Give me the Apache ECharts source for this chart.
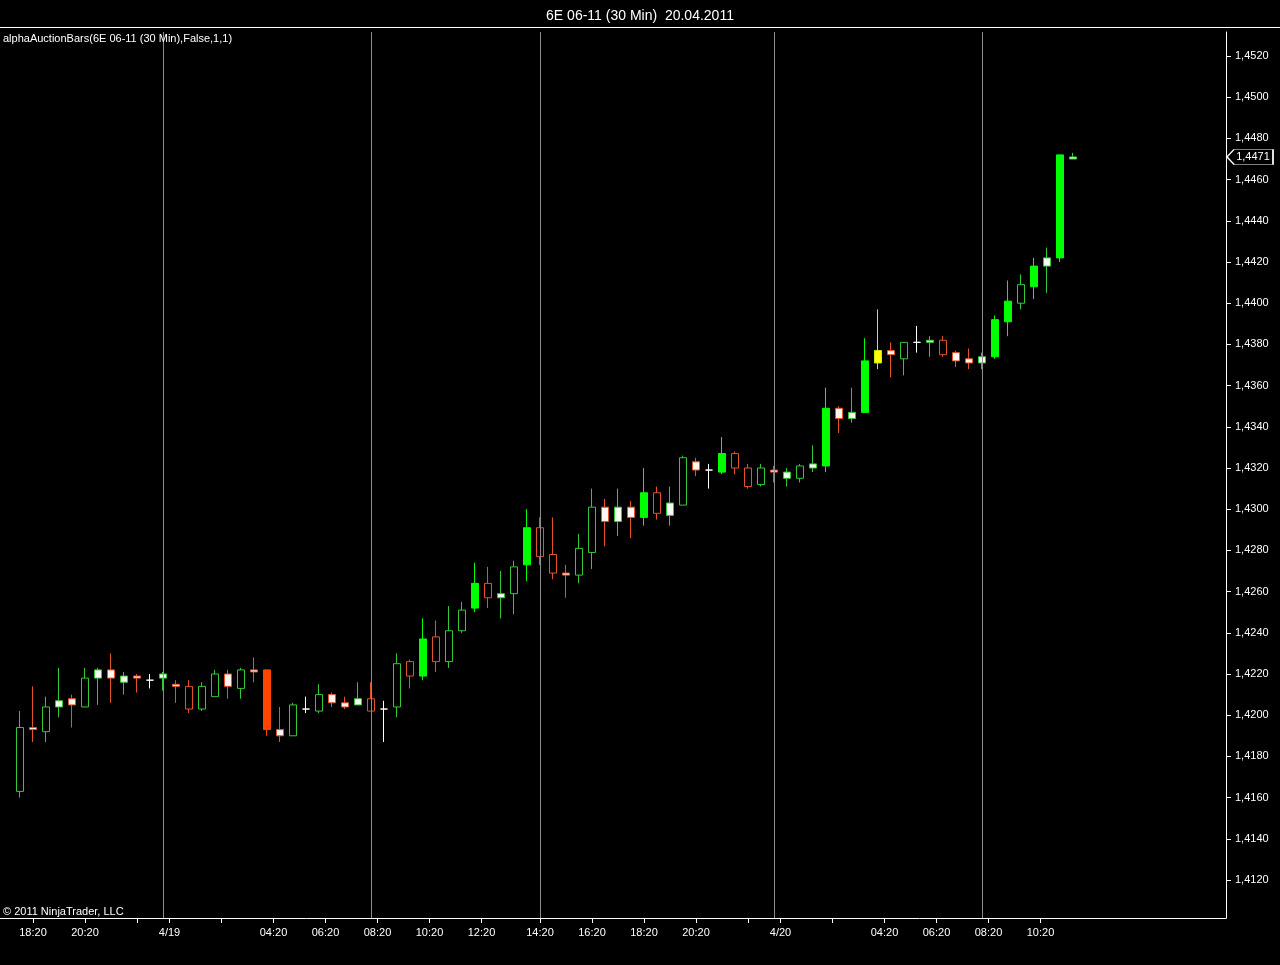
<!DOCTYPE html>
<html>
<head>
<meta charset="utf-8">
<script src="https://cdn.jsdelivr.net/npm/echarts@6/dist/echarts.min.js"></script>
<style>
html,body{margin:0;padding:0;background:#000;}
#chart{width:1280px;height:965px;}
</style>
</head>
<body>
<div id="chart"></div>
<script>
// 30-minute bars, 6E 06-11
const opens  = [1.4163,1.4194,1.4192,1.4204,1.4208,1.4204,1.4218,1.4222,1.4216,1.4219,1.4217,1.4218,1.4215,1.4214,1.4203,1.4209,1.4220,1.4213,1.4222,1.4222,1.4193,1.4190,1.4203,1.4202,1.4210,1.4206,1.4205,1.4208,1.4203,1.4204,1.4226,1.4219,1.4238,1.4226,1.4241,1.4252,1.4264,1.4257,1.4259,1.4273,1.4291,1.4278,1.4269,1.4268,1.4279,1.4301,1.4294,1.4301,1.4296,1.4308,1.4297,1.4302,1.4323,1.4319,1.4318,1.4327,1.4320,1.4312,1.4319,1.4315,1.4315,1.4320,1.4321,1.4349,1.4344,1.4347,1.4371,1.4377,1.4373,1.4381,1.4381,1.4382,1.4376,1.4373,1.4371,1.4374,1.4391,1.4400,1.4408,1.4418,1.4422,1.4470];
const closes = [1.4194,1.4193,1.4204,1.4207,1.4205,1.4218,1.4222,1.4218,1.4219,1.4218,1.4217,1.4220,1.4214,1.4203,1.4214,1.4220,1.4214,1.4222,1.4221,1.4193,1.4190,1.4205,1.4203,1.4210,1.4206,1.4204,1.4208,1.4202,1.4203,1.4225,1.4219,1.4237,1.4226,1.4241,1.4251,1.4264,1.4257,1.4259,1.4272,1.4291,1.4277,1.4269,1.4268,1.4281,1.4301,1.4294,1.4301,1.4296,1.4308,1.4298,1.4303,1.4325,1.4319,1.4319,1.4327,1.4320,1.4311,1.4320,1.4318,1.4318,1.4321,1.4322,1.4349,1.4344,1.4347,1.4372,1.4377,1.4375,1.4381,1.4381,1.4382,1.4375,1.4372,1.4371,1.4374,1.4392,1.4401,1.4409,1.4418,1.4422,1.4472,1.4471];
const lows   = [1.4160,1.4187,1.4187,1.4199,1.4194,1.4204,1.4205,1.4206,1.4210,1.4211,1.4213,1.4212,1.4206,1.4201,1.4202,1.4209,1.4208,1.4208,1.4216,1.4190,1.4187,1.4190,1.4201,1.4201,1.4204,1.4203,1.4205,1.4202,1.4187,1.4199,1.4213,1.4217,1.4221,1.4223,1.4240,1.4250,1.4252,1.4247,1.4249,1.4265,1.4273,1.4266,1.4257,1.4264,1.4271,1.4282,1.4287,1.4286,1.4292,1.4295,1.4292,1.4302,1.4316,1.4310,1.4317,1.4317,1.4310,1.4311,1.4313,1.4311,1.4313,1.4318,1.4318,1.4337,1.4342,1.4347,1.4368,1.4364,1.4365,1.4376,1.4374,1.4374,1.4369,1.4368,1.4368,1.4373,1.4384,1.4397,1.4402,1.4405,1.4420,1.4470];
const highs  = [1.4202,1.4214,1.4209,1.4223,1.4210,1.4223,1.4223,1.4230,1.4221,1.4220,1.4220,1.4221,1.4217,1.4217,1.4216,1.4222,1.4222,1.4223,1.4228,1.4222,1.4204,1.4206,1.4209,1.4215,1.4211,1.4209,1.4216,1.4216,1.4207,1.4230,1.4227,1.4247,1.4246,1.4253,1.4255,1.4274,1.4272,1.4270,1.4275,1.4300,1.4296,1.4296,1.4273,1.4288,1.4310,1.4305,1.4310,1.4304,1.4320,1.4311,1.4311,1.4326,1.4325,1.4322,1.4335,1.4328,1.4322,1.4322,1.4321,1.4320,1.4322,1.4331,1.4359,1.4350,1.4359,1.4383,1.4397,1.4381,1.4381,1.4389,1.4384,1.4384,1.4377,1.4378,1.4376,1.4394,1.4411,1.4414,1.4422,1.4427,1.4472,1.4473];
// auction bar type: g hollow up, G solid up, w white up, r hollow down, R solid down, v white down, x doji, Y yellow
const kinds = "gvgwvgwvwvxwvrggvgvRvgxgvvwrxgrGrggGrwgGrrvggvwvGrwgvxGrrgvwgwGvwGYvgxwrvvwGGgGwGw".split("");

const xTickIdx   = [1,5,9,11.5,15.5,19.5,23.5,27.5,31.5,35.5,40,44,48,52,56,58.5,62.5,66.5,70.5,74.5,78.5];
const xTickText  = ['18:20','20:20','','4/19','','04:20','06:20','08:20','10:20','12:20','14:20','16:20','18:20','20:20','','4/20','','04:20','06:20','08:20','10:20'];
const sessionBars = [11,27,40,58,74];
const yTicks = [1.412,1.414,1.416,1.418,1.420,1.422,1.424,1.426,1.428,1.430,1.432,1.434,1.436,1.438,1.440,1.442,1.444,1.446,1.448,1.450,1.452];
const lastPrice = 1.4471;

const GREEN = '#34c934', GREEN_SOLID = '#00ff00', RED = '#e2532c', RED_SOLID = '#ff4500';
const styleFor = {
  g: {fill:'#000000', border:GREEN},
  G: {fill:GREEN_SOLID, border:GREEN_SOLID},
  w: {fill:'#f2fff2', border:GREEN},
  r: {fill:'#000000', border:RED},
  R: {fill:RED_SOLID, border:RED_SOLID},
  v: {fill:'#fff6f2', border:RED},
  x: {fill:'#ffffff', border:'#ffffff'},
  Y: {fill:'#ffff00', border:'#c8f000'}
};

const candles = opens.map((o, i) => {
  const s = styleFor[kinds[i]];
  return {
    value: [i, o, closes[i], lows[i], highs[i]],
    itemStyle: {color: s.fill, color0: s.fill, borderColor: s.border, borderColor0: s.border}
  };
});

const FONT = 'Liberation Sans, Arial, sans-serif';
const X_MIN = -20 / 13, X_MAX = 1206 / 13;
const chart = echarts.init(document.getElementById('chart'), null, {renderer: 'canvas'});
const fmtPrice = v => v.toFixed(4).replace('.', ',');

chart.setOption({
  backgroundColor: '#000000',
  animation: false,
  title: {
    text: '6E 06-11 (30 Min)  20.04.2011',
    left: 'center', top: 4,
    textStyle: {color: '#ffffff', fontSize: 14, fontWeight: 'normal', fontFamily: FONT}
  },
  graphic: [
    {type: 'line', shape: {x1: 0, y1: 27.5, x2: 1280, y2: 27.5}, style: {stroke: '#ffffff', lineWidth: 1}, z: 10},
    {type: 'text', left: 3, top: 33, style: {text: 'alphaAuctionBars(6E 06-11 (30 Min),False,1,1)', fill: '#ffffff', font: '11px ' + FONT}, z: 10},
    {type: 'text', left: 3, top: 906, style: {text: '\u00a9 2011 NinjaTrader, LLC', fill: '#ffffff', font: '11px ' + FONT}, z: 10}
  ],
  grid: {left: 0, right: 54, top: 32, bottom: 47, containLabel: false},
  xAxis: {
    type: 'value',
    min: X_MIN, max: X_MAX,
    axisLine: {show: true, onZero: false, lineStyle: {color: '#ffffff', width: 1}},
    axisTick: {show: true, length: 5, lineStyle: {color: '#ffffff'}, customValues: xTickIdx},
    axisLabel: {
      color: '#ffffff', fontSize: 11, fontFamily: FONT, margin: 9,
      customValues: xTickIdx,
      formatter: function (v) {
        let best = 0, bd = 1e9;
        xTickIdx.forEach((t, k) => { const d = Math.abs(t - v); if (d < bd) { bd = d; best = k; } });
        return xTickText[best];
      }
    },
    splitLine: {show: false}
  },
  yAxis: {
    type: 'value', position: 'right', scale: true,
    min: 1.452 - 862 / 20600, max: 1.452 + 24 / 20600,
    axisLine: {show: true, onZero: false, lineStyle: {color: '#ffffff', width: 1}},
    axisTick: {show: true, length: 5, lineStyle: {color: '#ffffff'}, customValues: yTicks},
    axisLabel: {color: '#ffffff', fontSize: 11, fontFamily: FONT, margin: 9, customValues: yTicks, formatter: fmtPrice},
    splitLine: {show: false}
  },
  series: [
    {
      type: 'line', data: [], z: 1, silent: true,
      markLine: {
        silent: true, symbol: ['none', 'none'],
        lineStyle: {color: '#8c8c8c', width: 1, type: 'solid'},
        label: {show: false},
        data: sessionBars.map(b => ({xAxis: b}))
      }
    },
    {
      type: 'candlestick', z: 3,
      encode: {x: 0, y: [1, 2, 3, 4]},
      barWidth: 7,
      clip: false,
      data: candles,
      markPoint: {
        silent: true,
        animation: false,
        data: [{
          coord: [X_MAX, lastPrice],
          symbol: 'path://M0,7 L7,0 L46,0 L46,14 L7,14 Z',
          symbolSize: [46, 15],
          symbolKeepAspect: false,
          symbolOffset: [24, 0],
          itemStyle: {color: '#000000', borderColor: '#ffffff', borderWidth: 1},
          label: {
            show: true, position: 'inside', offset: [3, 0],
            formatter: fmtPrice(lastPrice),
            color: '#ffffff', fontSize: 11, fontFamily: FONT
          }
        }]
      }
    }
  ]
});
</script>
</body>
</html>
